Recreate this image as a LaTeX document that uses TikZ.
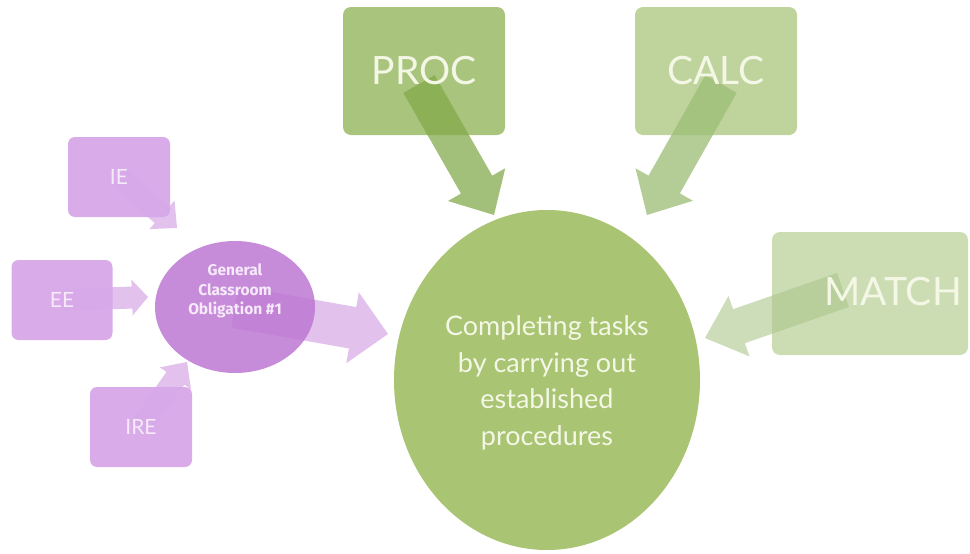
\documentclass[tikz,border=0pt]{standalone}
\usepackage{fontspec}
\setmainfont{Lato}
\newfontfamily\hubfont{Fira Sans}
\usetikzlibrary{calc,shapes.geometric}

% palette
\definecolor{pbox}{RGB}{215,168,232}
\definecolor{pcirc}{RGB}{199,140,217}
\definecolor{parrowlight}{RGB}{226,193,236}
\definecolor{parrow}{RGB}{134,0,176}
\definecolor{ptext}{RGB}{246,234,250}
\definecolor{gcirc}{RGB}{169,196,114}
\definecolor{gproc}{RGB}{169,196,124}
\definecolor{gcalc}{RGB}{191,212,156}
\definecolor{gmatch}{RGB}{204,221,180}
\definecolor{aproc}{RGB}{129,169,73}
\definecolor{acalc}{RGB}{157,190,119}
\definecolor{amatch}{RGB}{172,198,140}
\definecolor{gtext}{RGB}{244,247,230}

% block arrow: style, tail, tip, shaft half width, head half width, head length
\newcommand{\blockarrow}[6]{%
  \path ($(#3)!#6!(#2)$) coordinate (ba-base);
  \fill[#1] ($(#2)!#4!90:(#3)$) -- ($(ba-base)!#4!-90:(#2)$)
    -- ($(ba-base)!#5!-90:(#2)$) -- (#3) -- ($(ba-base)!#5!90:(#2)$)
    -- ($(ba-base)!#4!90:(#2)$) -- ($(#2)!#4!-90:(#3)$) -- cycle;}

\begin{document}
\begin{tikzpicture}[x=1pt,y=-1pt,
  pbx/.style={fill=pbox,rounded corners=7pt,inner sep=0pt,
    minimum width=102pt,minimum height=80pt},
  plabel/.style={text=ptext,font=\fontsize{21}{25}\selectfont},
  gbx/.style={rounded corners=8pt,inner sep=0pt,
    minimum width=162pt,minimum height=128pt},
  glabel/.style={text=gtext,font=\fontsize{39}{46}\selectfont},
  parr/.style={fill=parrowlight},
]
\useasboundingbox (0,0) rectangle (970,554);

% purple input boxes, their arrows running underneath
\coordinate (ie-tip) at (177,228);
\coordinate (ee-tip) at (148,297);
\coordinate (ire-tip) at (187,362);
\path (119,177) coordinate (ie-c) (62,300) coordinate (ee-c) (141,427) coordinate (ire-c);
\blockarrow{parr}{ie-c}{ie-tip}{11pt}{19pt}{20pt}
\blockarrow{parr}{ee-c}{ee-tip}{11pt}{18pt}{16pt}
\blockarrow{parr}{ire-c}{ire-tip}{11pt}{19pt}{20pt}
\node[pbx,fill opacity=0.95] (ie) at (ie-c) {};
\node[pbx,minimum width=101pt,fill opacity=0.95] (ee) at (ee-c) {};
\node[pbx,fill opacity=0.95] (ire) at (ire-c) {};
\node[plabel] at (ie) {IE};
\node[plabel] at (ee) {EE};
\node[plabel] at (ire) {IRE};

% purple hub and its arrow to the green hub
\coordinate (gco-c) at (235,307);
\coordinate (gco-tip) at (388,334);
\blockarrow{parr}{gco-c}{gco-tip}{21pt}{36pt}{36pt}
\node[ellipse,fill=pcirc,minimum width=160pt,minimum height=132pt,inner sep=0pt] (gco) at (gco-c) {};
\begin{scope}
  \clip (gco-c) ellipse [x radius=80pt, y radius=66pt];
  \blockarrow{fill=parrow,fill opacity=0.07}{gco-c}{gco-tip}{21pt}{36pt}{36pt}
\end{scope}
\node[text=ptext,align=center,font=\hubfont\bfseries\fontsize{15.5}{19.5}\selectfont] (gcotext) at (235,291)
  {General\\Classroom\\Obligation \#1};

% green hub
\node[ellipse,fill=gcirc,minimum width=306pt,minimum height=340pt,inner sep=0pt] (task) at (547,380) {};
\node[text=gtext,align=center,font=\fontsize{27}{36.5}\selectfont] (tasktext) at (547,383)
  {Completing tasks\\by carrying out\\established\\procedures};

% green input boxes
\node[gbx,fill=gproc] (proc) at (424,71) {};
\node[gbx,fill=gcalc] (calc) at (716,71) {};
\path[fill=gmatch,rounded corners=8pt] (772,232) rectangle (968,355);
\coordinate (match) at (893,292);

\coordinate (proc-tail) at (419,84);
\coordinate (proc-tip) at (494,215);
\coordinate (calc-tail) at (721,84);
\coordinate (calc-tip) at (647,215);
\coordinate (match-tail) at (843,290);
\coordinate (match-tip) at (705,338);
\blockarrow{fill=aproc,fill opacity=0.73}{proc-tail}{proc-tip}{18pt}{33pt}{35pt}
\blockarrow{fill=acalc,fill opacity=0.77}{calc-tail}{calc-tip}{18pt}{33pt}{35pt}
\blockarrow{fill=amatch,fill opacity=0.6}{match-tail}{match-tip}{18pt}{32pt}{36pt}

\node[glabel] at (proc) {PROC};
\node[glabel] at (calc) {CALC};
\node[glabel] at (match) {MATCH};
\end{tikzpicture}
\end{document}
